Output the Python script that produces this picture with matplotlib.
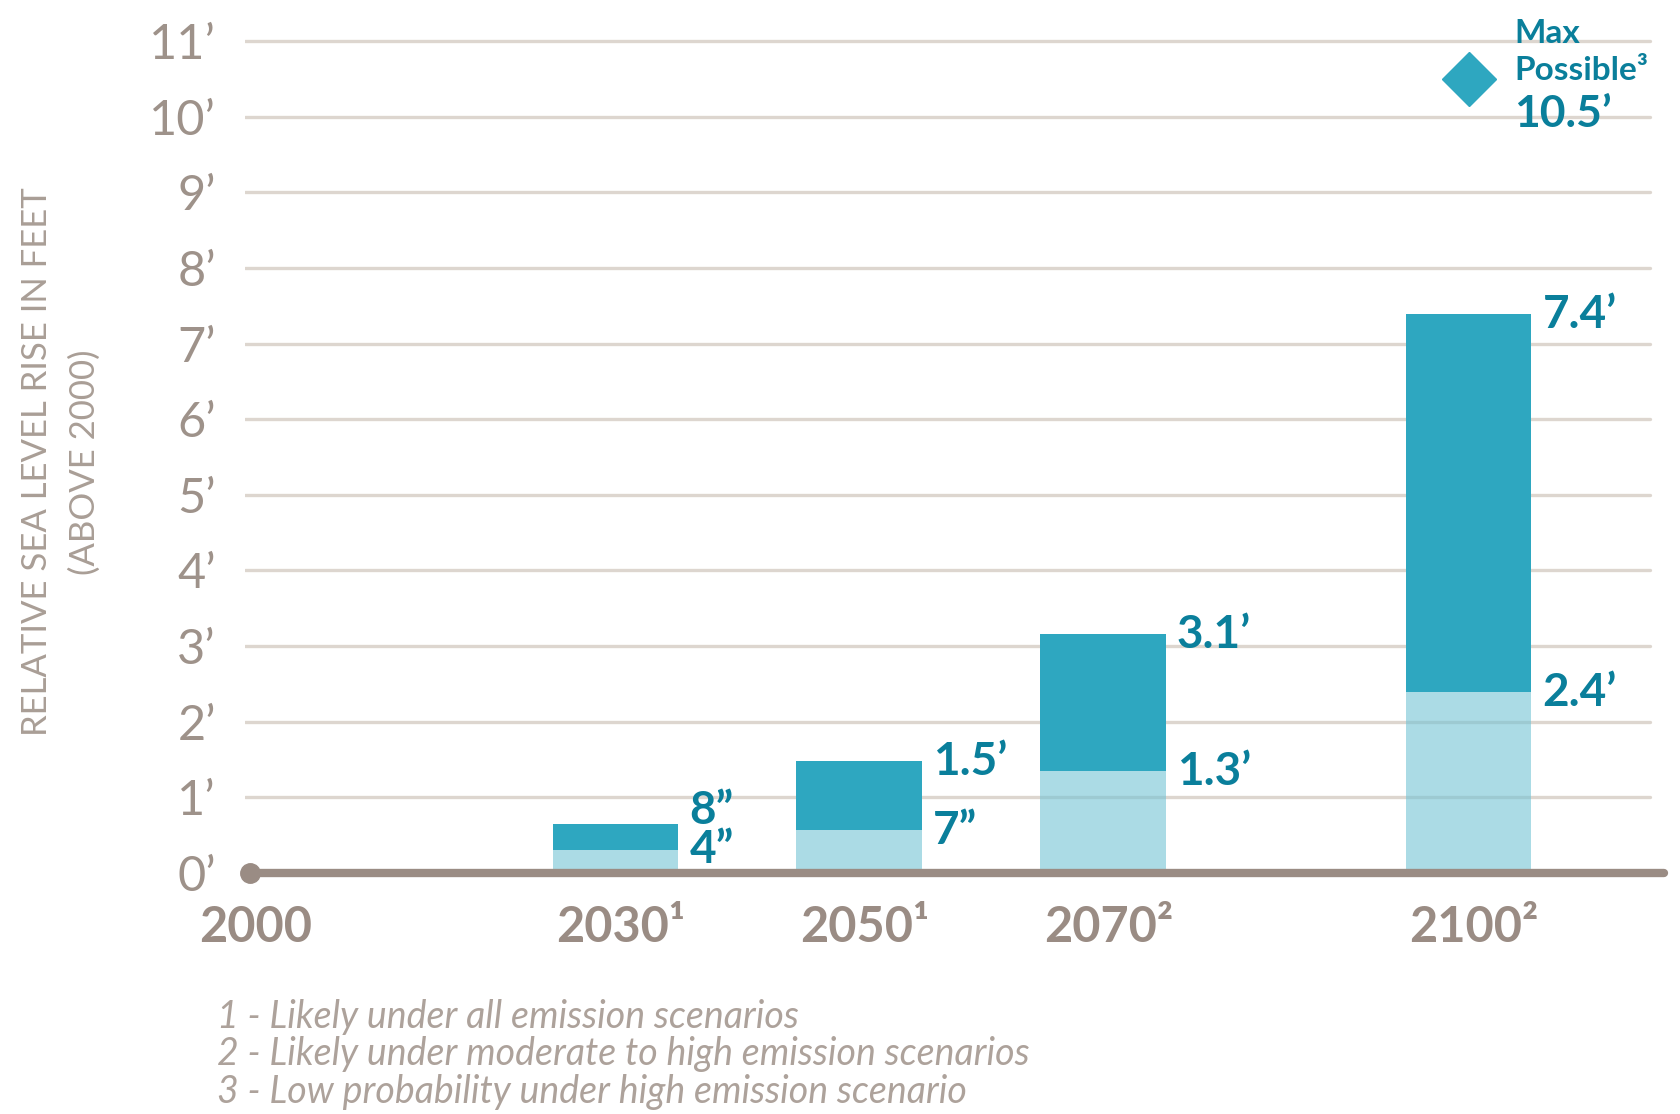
import matplotlib.pyplot as plt

plt.rcParams['font.family'] = ['Lato', 'DejaVu Sans']

# data (feet above 2000 level)
years = [2030, 2050, 2070, 2100]
year_marks = ['¹', '¹', '²', '²']
likely_low = [0.31, 0.57, 1.35, 2.39]
likely_high = [0.65, 1.48, 3.16, 7.39]
low_labels = ['4”', '7”', '1.3’', '2.4’']
high_labels = ['8”', '1.5’', '3.1’', '7.4’']
start_year = 2000
max_year = 2100
max_value = 10.5
max_label = '10.5’'
y_ticks = list(range(12))
y_tick_labels = [f"{v}’" for v in y_ticks]
footnotes = [
    "1 - Likely under all emission scenarios",
    "2 - Likely under moderate to high emission scenarios",
    "3 - Low probability under high emission scenario",
]

dark = '#2EA7C0'
light = '#73C3D5'
label_c = '#0A7F9B'
grey = '#9A8C84'
tick_c = '#9E928A'
grid_c = '#DDD6CF'
note_c = '#ADA29B'
bar_w = 10.3

W, H = 1680, 1114
fig = plt.figure(figsize=(W / 100, H / 100), dpi=100)
ax = fig.add_axes([245 / W, (H - 880.6) / H, (1666 - 245) / W, (880.6 - 18.3) / H])
ax.set_xlim(1999.6, 2116.2)
ax.set_ylim(-0.1, 11.3)

ax.hlines(y_ticks[1:], 1999.6, 2114.9, color=grid_c, lw=2.4, zorder=1,
          capstyle='round')

ax.bar(years, likely_low, width=bar_w, color=light, alpha=0.6, lw=0, zorder=2)
ax.bar(years, [h - l for h, l in zip(likely_high, likely_low)],
       bottom=likely_low, width=bar_w, color=dark, lw=0, zorder=3)

# baseline with dot at 2000
ax.plot([start_year, 2116], [0, 0], color=grey, lw=6, solid_capstyle='round',
        zorder=5, clip_on=False)
ax.plot(start_year, 0, 'o', ms=14, color=grey, zorder=6, clip_on=False)

for x, lo, hi, lo_t, hi_t in zip(years, likely_low, likely_high,
                                 low_labels, high_labels):
    dy = -10 if hi - lo > 0.5 else 0
    ax.annotate(hi_t, xy=(x + bar_w / 2, hi), xytext=(8, dy),
                textcoords='offset points', ha='left', va='baseline',
                fontsize=33, fontweight='bold', color=label_c)
    ax.annotate(lo_t, xy=(x + bar_w / 2, lo), xytext=(8, -10),
                textcoords='offset points', ha='left', va='baseline',
                fontsize=33, fontweight='bold', color=label_c)

# max possible
ax.plot(max_year, max_value, marker='D', ms=28, color=dark, lw=0, zorder=4,
        clip_on=False)
ax.annotate('Max', xy=(max_year, max_value), xytext=(33, 26),
            textcoords='offset points', va='baseline', fontsize=24,
            fontweight='bold', color=label_c, annotation_clip=False)
ax.annotate('Possible³', xy=(max_year, max_value), xytext=(33, -1),
            textcoords='offset points', va='baseline', fontsize=24,
            fontweight='bold', color=label_c, annotation_clip=False)
ax.annotate(max_label, xy=(max_year, max_value), xytext=(33, -35),
            textcoords='offset points', va='baseline', fontsize=32,
            fontweight='bold', color=label_c, annotation_clip=False)

# year labels
for y, m in zip([start_year] + years, [''] + year_marks):
    ax.annotate(f"{y}{m}", xy=(y, 0), xytext=(4, -50),
                textcoords='offset points', ha='center', va='baseline',
                fontsize=35, fontweight='bold', color=grey,
                annotation_clip=False)

ax.set_xticks([])
ax.set_yticks(y_ticks, y_tick_labels)
ax.tick_params(axis='y', length=0, pad=21, labelsize=35, labelcolor=tick_c)
for t in ax.get_yticklabels():
    t.set_fontweight('normal')
for s in ax.spines.values():
    s.set_visible(False)

fig.text(61 / W, 1 - 462 / H, "RELATIVE SEA LEVEL RISE IN FEET\n(ABOVE 2000)",
         rotation=90, ha='center', va='center', multialignment='center',
         fontsize=25, fontweight='normal', color='#A99E96', linespacing=1.6)

for line, b in zip(footnotes, [1028, 1065.5, 1103]):
    fig.text(217 / W, (H - b) / H, line, fontsize=27, style='italic',
             fontweight='normal', color=note_c, va='baseline')

fig.savefig('out.png', dpi=100)
